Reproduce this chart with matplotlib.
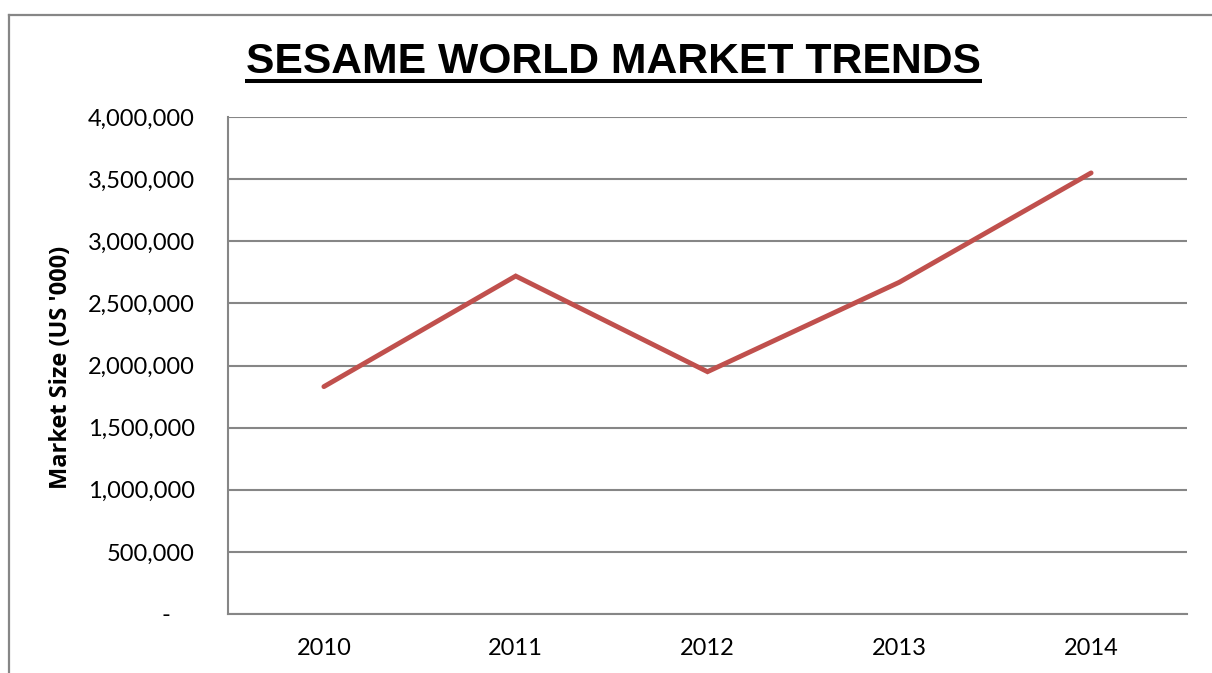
import matplotlib
matplotlib.use("Agg")
import matplotlib.pyplot as plt
from matplotlib.lines import Line2D
from matplotlib.ticker import FuncFormatter

years = ["2010", "2011", "2012", "2013", "2014"]
market_size = [1830000, 2720000, 1950000, 2670000, 3550000]
y_ticks = [0, 500000, 1000000, 1500000, 2000000, 2500000, 3000000, 3500000, 4000000]
title_text = "SESAME WORLD MARKET TRENDS"
y_label = "Market Size (US '000)"

W, H = 1212, 673
fig = plt.figure(figsize=(W / 100, H / 100), dpi=100)
fig.patch.set_facecolor("white")

grid_color = "#868686"

# outer chart frame (left and top edges)
fig.add_artist(Line2D([9 / W, 9 / W], [0, 1 - 15 / H], transform=fig.transFigure,
                      color=grid_color, lw=1.6))
fig.add_artist(Line2D([9 / W, 1], [1 - 15 / H, 1 - 15 / H], transform=fig.transFigure,
                      color=grid_color, lw=1.6))

ax = fig.add_axes([228 / W, 1 - 614 / H, (1187 - 228) / W, (614 - 117) / H])
x = list(range(len(years)))
ax.plot(x, market_size, color="#C0504D", lw=3.5, solid_capstyle="round",
        solid_joinstyle="miter", zorder=3)

ax.set_xlim(-0.5, len(years) - 0.5)
ax.set_ylim(0, 4000000)
ax.set_xticks(x)
ax.set_xticklabels(years)
ax.set_yticks(y_ticks)


def fmt(v, pos):
    if v == 0:
        return "-    "
    return f"{int(v):,}"


ax.yaxis.set_major_formatter(FuncFormatter(fmt))
ax.yaxis.grid(True, color=grid_color, lw=1.5)
ax.set_axisbelow(True)
for side in ("top", "right"):
    ax.spines[side].set_visible(False)
for side in ("left", "bottom"):
    ax.spines[side].set_color(grid_color)
    ax.spines[side].set_linewidth(1.5)

ax.tick_params(axis="both", length=0, labelsize=17, labelcolor="black")
ax.tick_params(axis="y", pad=24)
ax.tick_params(axis="x", pad=17)
for lab in ax.get_xticklabels() + ax.get_yticklabels():
    lab.set_fontfamily("Lato")

fig.text(61 / W, 1 - 367 / H, y_label, rotation=90, ha="center", va="center",
         fontsize=17, fontweight="bold", family="Open Sans")

title = fig.text(613 / W, 1 - 73.3 / H, title_text, ha="center", va="baseline",
                 fontsize=30.7, fontweight="bold", family="Liberation Sans")

fig.canvas.draw()
bb = title.get_window_extent()
uy = 1 - 81.3 / H
fig.add_artist(Line2D([bb.x0 / W - 1 / W, bb.x1 / W + 2 / W], [uy, uy],
                      transform=fig.transFigure, color="black", lw=2.9,
                      solid_capstyle="butt"))

fig.savefig("out.png", dpi=100, facecolor="white")
